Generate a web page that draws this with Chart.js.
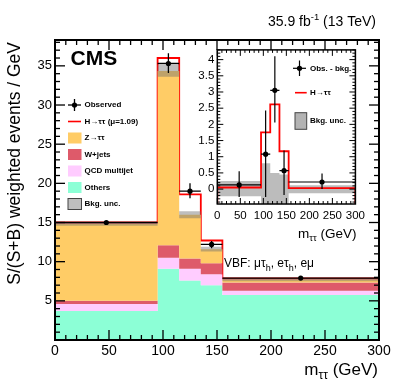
<!DOCTYPE html>
<html>
<head>
<meta charset="utf-8">
<script src="https://cdn.jsdelivr.net/npm/chart.js@4.4.1/dist/chart.umd.min.js"></script>
<style>
body { margin: 0; background: #fff; }
#wrap { position: relative; width: 399px; height: 386px; }
canvas { position: absolute; }
</style>
</head>
<body>
<div id="wrap">
  <canvas id="main" width="399" height="386" style="left:0;top:0"></canvas>
  <canvas id="inset" width="180" height="205" style="left:190px;top:40px"></canvas>
</div>
<script>
// bin edges in m_tautau (GeV)
var edges = [0, 95, 115, 135, 155, 300];

// main panel, per bin (S/(S+B) weighted events / GeV)
var others = [3.7, 9.1, 7.6, 7.0, 5.75];
var qcd = [0.9, 1.4, 1.5, 1.4, 0.55];
var wjets = [0.4, 1.6, 1.3, 1.4, 1.05];
var ztt = [9.8, 22.25, 5.6, 1.8, 0.35];
var bkgUnc = [0.2, 0.75, 0.45, 0.3, 0.2];
var splusb = [15.0, 36.0, 18.6, 12.7, 7.85];
var observed = [15.0, 35.3, 19.0, 12.2, 7.9];
var obsUp = [0.2, 1.3, 1.0, 0.45, 0.1];
var obsDown = [0.2, 1.2, 0.9, 0.5, 0.1];

// inset: observed minus background
var diffObs = [0.13, 1.08, 3.05, 0.57, 0.22];
var diffUp = [0.42, 1.35, 1.05, 0.62, 0.26];
var diffDown = [0.37, 1.32, 0.99, 0.75, 0.22];
var signal = [0.05, 1.75, 2.62, 1.17, 0.03];
var uncHigh = [0.25, 0.8, 0.5, 0.45, 0.12];
var uncLow = [-0.22, -0.8, -0.5, -0.45, -0.13];

var legendLabels = ['Observed', 'H\u2192\u03c4\u03c4 (\u03bc=1.09)', 'Z\u2192\u03c4\u03c4', 'W+jets', 'QCD multijet', 'Others', 'Bkg. unc.'];
var insetLabels = ['Obs. - bkg.', 'H\u2192\u03c4\u03c4', 'Bkg. unc.'];

var FONT = "'Liberation Sans', Arial, Helvetica, sans-serif";
var colOthers = '#8cffd6', colQcd = '#ffccff', colW = '#de5a6a', colZ = '#ffcc66';

function steps(vals) {
	return edges.map(function(e, i) { return {x: e, y: vals[Math.min(i, vals.length - 1)]}; });
}
function addUp() {
	var arrs = arguments;
	return arrs[0].map(function(v, i) {
		var s = 0;
		for (var k = 0; k < arrs.length; k++) s += arrs[k][i];
		return s;
	});
}
function centers() {
	return edges.slice(0, -1).map(function(e, i) { return (e + edges[i + 1]) / 2; });
}
function markers(vals) {
	var c = centers();
	return vals.map(function(v, i) { return {x: c[i], y: v}; });
}
function errBars(vals, up, down) {
	var c = centers(), pts = [];
	vals.forEach(function(v, i) {
		pts.push({x: c[i], y: v - down[i]}, {x: c[i], y: v + up[i]}, {x: c[i], y: null});
		pts.push({x: edges[i], y: v}, {x: edges[i + 1], y: v}, {x: edges[i + 1], y: null});
	});
	return pts;
}

function textParts(ctx, parts, x, y, align) {
	var w = 0;
	parts.forEach(function(p) {
		ctx.font = (p.bold ? 'bold ' : '') + p.size + 'px ' + FONT;
		w += ctx.measureText(p.t).width;
	});
	var cx = align === 'right' ? x - w : x;
	ctx.textAlign = 'left';
	ctx.textBaseline = 'alphabetic';
	parts.forEach(function(p) {
		ctx.font = (p.bold ? 'bold ' : '') + p.size + 'px ' + FONT;
		ctx.fillText(p.t, cx, y + (p.dy || 0));
		cx += ctx.measureText(p.t).width;
	});
}

function line(ctx, x1, y1, x2, y2) {
	ctx.beginPath(); ctx.moveTo(x1, y1); ctx.lineTo(x2, y2); ctx.stroke();
}

// ROOT style frame with inward ticks on all four sides
function frameTicks(chart, o) {
	var ctx = chart.ctx, a = chart.chartArea, xs = chart.scales.x, ys = chart.scales.y;
	ctx.save();
	ctx.strokeStyle = '#000';
	ctx.lineWidth = o.tickWidth;
	var v, p, L;
	for (v = Math.ceil(xs.min / o.xMinor) * o.xMinor; v <= xs.max + 1e-9; v += o.xMinor) {
		p = xs.getPixelForValue(v);
		L = Math.abs(v / o.xMajor - Math.round(v / o.xMajor)) < 1e-6 ? o.major : o.minor;
		line(ctx, p, a.bottom, p, a.bottom - L);
		line(ctx, p, a.top, p, a.top + L);
	}
	for (v = Math.ceil(ys.min / o.yMinor - 1e-6) * o.yMinor; v <= ys.max + 1e-9; v += o.yMinor) {
		p = ys.getPixelForValue(v);
		L = Math.abs(v / o.yMajor - Math.round(v / o.yMajor)) < 1e-6 ? o.major : o.minor;
		line(ctx, a.left, p, a.left + L, p);
		line(ctx, a.right, p, a.right - L, p);
	}
	ctx.lineWidth = o.frameWidth;
	ctx.strokeRect(a.left, a.top, a.right - a.left, a.bottom - a.top);
	ctx.restore();
}

var mainDecor = {
	id: 'mainDecor',
	afterDraw: function(chart) {
		var ctx = chart.ctx;
		frameTicks(chart, {xMajor: 50, xMinor: 10, yMajor: 5, yMinor: 1, major: 10, minor: 5, tickWidth: 1.3, frameWidth: 2});
		ctx.save();
		ctx.fillStyle = '#000';
		textParts(ctx, [{t: 'CMS', size: 21, bold: true}], 70.5, 65);
		textParts(ctx, [{t: '35.9 fb', size: 14}, {t: '-1', size: 9.5, dy: -6}, {t: ' (13 TeV)', size: 14}], 376, 26, 'right');
		textParts(ctx, [{t: 'VBF: \u03bc\u03c4', size: 12}, {t: 'h', size: 9, dy: 4}, {t: ', e\u03c4', size: 12}, {t: 'h', size: 9, dy: 4}, {t: ', e\u03bc', size: 12}], 224, 266.5);
		textParts(ctx, [{t: 'm', size: 17}, {t: '\u03c4\u03c4', size: 12, dy: 4}, {t: ' (GeV)', size: 17}], 378, 375, 'right');
		// y title, aligned to top of axis
		ctx.translate(20, 42);
		ctx.rotate(-Math.PI / 2);
		ctx.font = '17.5px ' + FONT;
		ctx.textAlign = 'right';
		ctx.textBaseline = 'alphabetic';
		ctx.fillText('S/(S+B) weighted events / GeV', 0, 0);
		ctx.restore();

		// legend
		ctx.save();
		var fills = [null, null, colZ, colW, colQcd, colOthers, 'rgba(110,110,110,0.45)'];
		legendLabels.forEach(function(lab, i) {
			var y = 105 + i * 16.5;
			if (i === 0) {
				ctx.strokeStyle = '#000'; ctx.lineWidth = 1.3;
				line(ctx, 68, y, 81, y); line(ctx, 74.5, y - 6, 74.5, y + 6);
				ctx.fillStyle = '#000';
				ctx.beginPath(); ctx.arc(74.5, y, 2.6, 0, 2 * Math.PI); ctx.fill();
			} else if (i === 1) {
				ctx.strokeStyle = '#ff0000'; ctx.lineWidth = 1.6;
				line(ctx, 68, y, 81, y);
			} else {
				ctx.fillStyle = fills[i];
				ctx.fillRect(68, y - 5.5, 13.5, 11);
				if (i === 6) { ctx.strokeStyle = '#444'; ctx.lineWidth = 1; ctx.strokeRect(68, y - 5.5, 13.5, 11); }
			}
			ctx.fillStyle = '#000';
			ctx.font = 'bold 8px ' + FONT;
			ctx.textAlign = 'left';
			ctx.textBaseline = 'middle';
			ctx.fillText(lab, 84.5, y);
		});
		ctx.restore();
	}
};

var cumO = others;
var cumQ = addUp(others, qcd);
var cumW = addUp(others, qcd, wjets);
var cumZ = addUp(others, qcd, wjets, ztt);
var bandHi = cumZ.map(function(v, i) { return v + bkgUnc[i]; });
var bandLo = cumZ.map(function(v, i) { return v - bkgUnc[i]; });

function stepSet(vals, color, fill, order, border, bw) {
	return {data: steps(vals), stepped: 'before', backgroundColor: color, fill: fill, order: order,
		borderColor: border || 'rgba(0,0,0,0)', borderWidth: bw || 1, pointRadius: 0};
}

new Chart(document.getElementById('main'), {
	type: 'line',
	data: {
		datasets: [
			{data: markers(observed), showLine: false, pointRadius: 2.6, pointBackgroundColor: '#000', pointBorderWidth: 0, order: 0},
			{data: errBars(observed, obsUp, obsDown), borderColor: '#000', borderWidth: 1.3, pointRadius: 0, spanGaps: false, fill: false, order: 1},
			stepSet(bandHi, 'rgba(110,110,110,0.45)', 3, 2),
			stepSet(bandLo, 'rgba(0,0,0,0)', false, 3),
			stepSet(cumZ, colZ, 5, 4),
			stepSet(cumW, colW, 6, 5),
			stepSet(cumQ, colQcd, 7, 6),
			stepSet(cumO, colOthers, 'origin', 7),
			stepSet(splusb, 'rgba(0,0,0,0)', false, 8, '#ff0000', 1.8)
		]
	},
	options: {
		responsive: false,
		animation: false,
		events: [],
		layout: {padding: {left: 0, right: 20, top: 40, bottom: 0}},
		plugins: {legend: {display: false}, tooltip: {enabled: false}},
		scales: {
			x: {
				type: 'linear', min: 0, max: 300,
				grid: {display: false, drawTicks: false}, border: {display: false},
				ticks: {stepSize: 50, autoSkip: false, maxRotation: 0, color: '#000', padding: 3, font: {family: FONT, size: 14}},
				afterFit: function(s) { s.height = 46; }
			},
			y: {
				type: 'linear', min: 0, max: 38.3,
				grid: {display: false, drawTicks: false}, border: {display: false},
				ticks: {stepSize: 5, includeBounds: false, autoSkip: false, color: '#000', padding: 3, font: {family: FONT, size: 13},
					callback: function(v) { return v === 0 ? '' : v; }},
				afterFit: function(s) { s.width = 55; }
			}
		}
	},
	plugins: [mainDecor]
});

// ---------- inset ----------
var insetMin = -0.46, insetMax = 4.3;
var insetDecor = {
	id: 'insetDecor',
	beforeDraw: function(chart) {
		var a = chart.chartArea, ctx = chart.ctx;
		ctx.save();
		ctx.fillStyle = '#fff';
		ctx.fillRect(a.left, a.top, a.right - a.left, a.bottom - a.top);
		ctx.restore();
	},
	afterDraw: function(chart) {
		var ctx = chart.ctx;
		frameTicks(chart, {xMajor: 50, xMinor: 10, yMajor: 0.5, yMinor: 0.1, major: 6, minor: 3, tickWidth: 1, frameWidth: 1.5});
		ctx.save();
		ctx.fillStyle = '#000';
		textParts(ctx, [{t: 'm', size: 13.5}, {t: '\u03c4\u03c4', size: 9.5, dy: 3}, {t: ' (GeV)', size: 13.5}], 166.5, 198, 'right');
		// legend
		var lx = 105, tx = 120;
		ctx.strokeStyle = '#000'; ctx.lineWidth = 1.2;
		line(ctx, 103, 28.3, 116, 28.3); line(ctx, 109.5, 20.5, 109.5, 36);
		ctx.beginPath(); ctx.arc(109.5, 28.3, 2.6, 0, 2 * Math.PI); ctx.fill();
		ctx.strokeStyle = '#ff0000'; ctx.lineWidth = 1.6;
		line(ctx, lx, 52.7, lx + 11.7, 52.7);
		ctx.fillStyle = 'rgba(160,160,160,0.8)';
		ctx.fillRect(lx, 72.7, 11.7, 16.6);
		ctx.strokeStyle = '#444'; ctx.lineWidth = 1;
		ctx.strokeRect(lx, 72.7, 11.7, 16.6);
		ctx.fillStyle = '#000';
		ctx.font = 'bold 8px ' + FONT;
		ctx.textAlign = 'left';
		ctx.textBaseline = 'middle';
		ctx.fillText(insetLabels[0], tx, 28.3);
		ctx.fillText(insetLabels[1], tx, 52.7);
		ctx.fillText(insetLabels[2], tx, 81);
		ctx.restore();
	}
};

var sigPts = [{x: 0, y: insetMin}].concat(steps(signal), [{x: 300, y: insetMin}]);

new Chart(document.getElementById('inset'), {
	type: 'line',
	data: {
		datasets: [
			{data: markers(diffObs), showLine: false, pointRadius: 2.6, pointBackgroundColor: '#000', pointBorderWidth: 0, order: 0},
			{data: errBars(diffObs, diffUp, diffDown), borderColor: '#000', borderWidth: 1.2, pointRadius: 0, spanGaps: false, fill: false, order: 1},
			{data: sigPts, stepped: 'before', borderColor: '#ff0000', borderWidth: 1.8, pointRadius: 0, fill: false, order: 2},
			stepSet(uncHigh, 'rgba(160,160,160,0.7)', 4, 3),
			stepSet(uncLow, 'rgba(0,0,0,0)', false, 4)
		]
	},
	options: {
		responsive: false,
		animation: false,
		events: [],
		layout: {padding: {left: 0, right: 13, top: 8, bottom: 0}},
		plugins: {legend: {display: false}, tooltip: {enabled: false}},
		scales: {
			x: {
				type: 'linear', min: 0, max: 300,
				grid: {display: false, drawTicks: false}, border: {display: false},
				ticks: {stepSize: 50, autoSkip: false, maxRotation: 0, color: '#000', padding: 5, font: {family: FONT, size: 11.5}},
				afterFit: function(s) { s.height = 41; }
			},
			y: {
				type: 'linear', min: insetMin, max: insetMax,
				grid: {display: false, drawTicks: false}, border: {display: false},
				ticks: {stepSize: 0.5, includeBounds: false, autoSkip: false, color: '#000', padding: 3, font: {family: FONT, size: 11.5},
					callback: function(v) { return String(Number(v.toFixed(1))); }},
				afterFit: function(s) { s.width = 27.3; }
			}
		}
	},
	plugins: [insetDecor]
});
</script>
</body>
</html>
